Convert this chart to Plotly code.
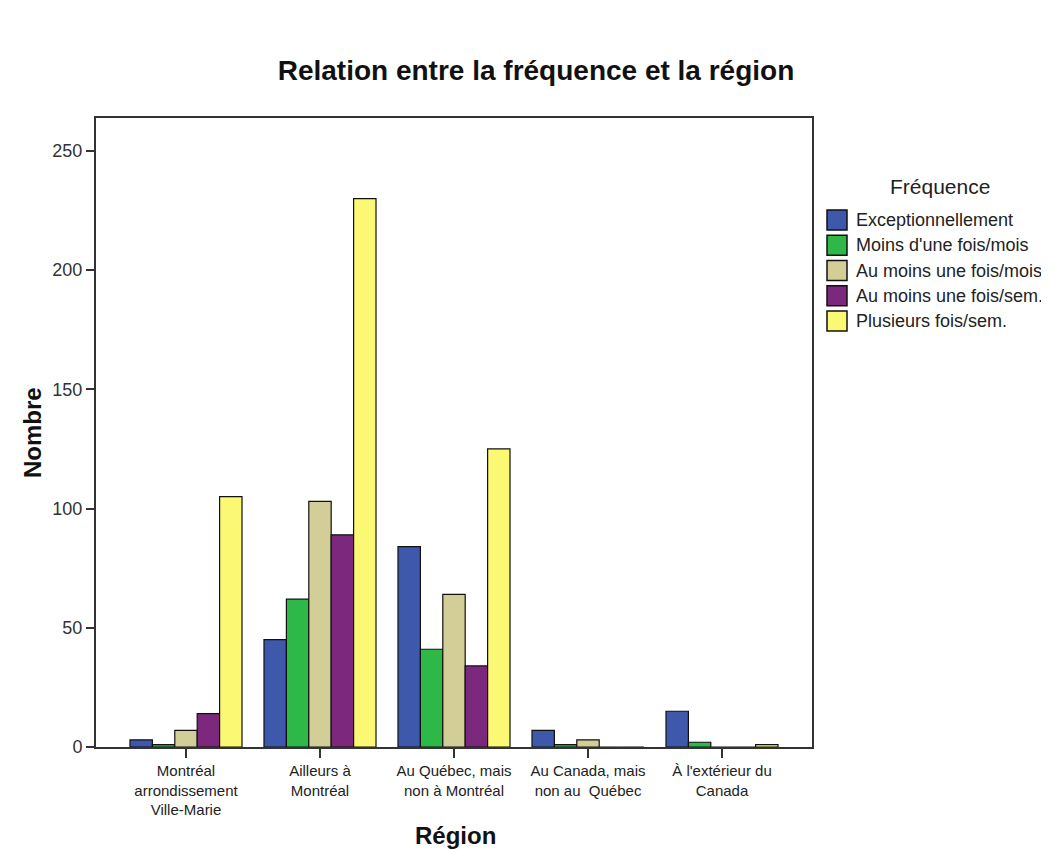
import plotly.graph_objects as go

# ---- data ----
regions = ["Montréal arrondissement Ville-Marie", "Ailleurs à Montréal",
           "Au Québec, mais non à Montréal", "Au Canada, mais non au Québec",
           "À l'extérieur du Canada"]
region_ticklabels = ["Montréal<br>arrondissement<br>Ville-Marie", "Ailleurs à<br>Montréal",
                     "Au Québec, mais<br>non à Montréal", "Au Canada, mais<br>non au  Québec",
                     "À l'extérieur du<br>Canada"]
freq_names = ["Exceptionnellement", "Moins d'une fois/mois", "Au moins une fois/mois",
              "Au moins une fois/sem.", "Plusieurs fois/sem."]
exceptionnellement = [3, 45, 84, 7, 15]
moins_une_fois_mois = [1, 62, 41, 1, 2]
au_moins_fois_mois = [7, 103, 64, 3, 0]
au_moins_fois_sem = [14, 89, 34, 0, 0]
plusieurs_fois_sem = [105, 230, 125, 0, 1]
y_ticks = [0, 50, 100, 150, 200, 250]

series = [exceptionnellement, moins_une_fois_mois, au_moins_fois_mois,
          au_moins_fois_sem, plusieurs_fois_sem]
colors = ["#3E58AC", "#2EB848", "#D3CE97", "#7C287D", "#FBF873"]

VW, VH = 1049, 850      # browser viewport
OFF = 8                 # page body margin
W, H = VW - OFF, VH - OFF
L, R, T, B = 96, 812, 118, 747  # plot area in viewport pixels

def px_x(px):
    return (px - L) / (R - L)

def px_y(py):
    return (B - py) / (B - T)

fig = go.Figure()
for name, vals, col in zip(freq_names, series, colors):
    fig.add_trace(go.Bar(
        x=regions, y=vals, name=name,
        marker=dict(color=col, line=dict(color="#111111", width=1.2)),
        showlegend=False,
    ))

FONT = "Liberation Sans, Arial, sans-serif"

fig.update_layout(
    width=W, height=H,
    template="none",
    paper_bgcolor="white", plot_bgcolor="white",
    margin=dict(l=L - OFF, r=VW - R, t=T - OFF, b=VH - B, autoexpand=False),
    barmode="group", bargap=0.164, bargroupgap=0,
    font=dict(family=FONT, color="#222222"),
    title=dict(text="<b>Relation entre la fréquence et la région</b>",
               x=px_x(536), xref="paper", xanchor="center",
               y=1 - (70 - OFF) / H, yref="container", yanchor="middle",
               font=dict(size=28, family=FONT, color="#111111")),
    xaxis=dict(
        type="category", range=[-0.6716, 4.6716],
        tickmode="array", tickvals=regions, ticktext=region_ticklabels,
        ticks="outside", ticklen=9, tickwidth=1.5, tickcolor="#333333",
        tickfont=dict(size=15, family=FONT, color="#222222"),
        showline=True, linecolor="#333333", linewidth=2, mirror=True,
        showgrid=False, zeroline=False, automargin=False,
    ),
    yaxis=dict(
        range=[0, 263.8], tickmode="array", tickvals=y_ticks,
        ticks="outside", ticklen=8, tickwidth=1.5, tickcolor="#333333",
        tickfont=dict(size=18, family=FONT, color="#333333"),
        showline=True, linecolor="#333333", linewidth=2, mirror=True,
        showgrid=False, zeroline=False, automargin=False,
    ),
)

annotations = [
    dict(text="<b>Nombre</b>", xref="paper", yref="paper", x=px_x(32), y=px_y(433),
         xanchor="center", yanchor="middle", textangle=-90, showarrow=False,
         font=dict(size=24, family=FONT, color="#111111")),
    dict(text="<b>Région</b>", xref="paper", yref="paper", x=px_x(455), y=px_y(835),
         xanchor="center", yanchor="middle", showarrow=False,
         font=dict(size=24, family=FONT, color="#111111")),
    dict(text="Fréquence", xref="paper", yref="paper", x=px_x(940), y=px_y(186),
         xanchor="center", yanchor="middle", showarrow=False,
         font=dict(size=21, family=FONT, color="#222222")),
]
shapes = []
legend_centers = [220, 245.3, 270.5, 295.8, 321]
for name, col, cy in zip(freq_names, colors, legend_centers):
    shapes.append(dict(type="rect", xref="paper", yref="paper",
                       x0=px_x(827), x1=px_x(847), y0=px_y(cy + 10), y1=px_y(cy - 10),
                       fillcolor=col, line=dict(color="#111111", width=1.5)))
    annotations.append(dict(text=name, xref="paper", yref="paper", x=px_x(854), y=px_y(cy),
                            xanchor="left", yanchor="middle", showarrow=False,
                            font=dict(size=18, family=FONT, color="#222222")))

fig.update_layout(annotations=annotations, shapes=shapes)
fig.write_html("out.html")
